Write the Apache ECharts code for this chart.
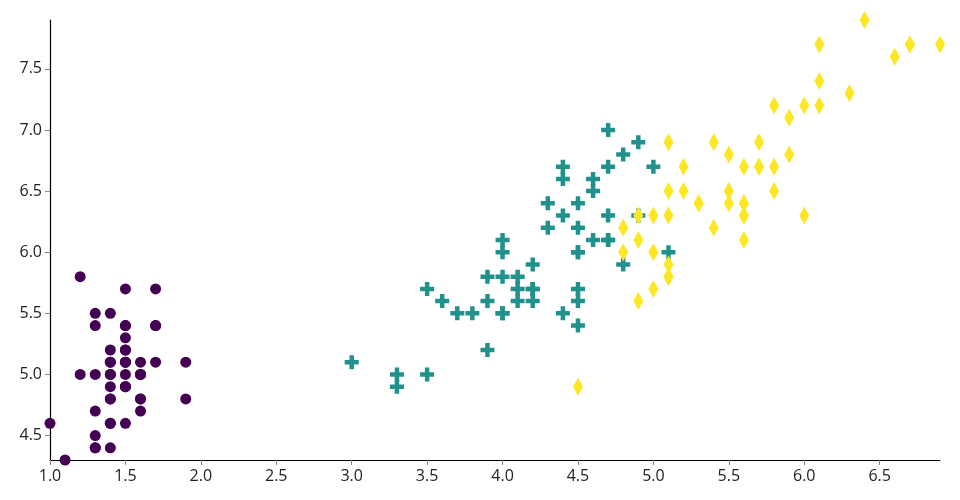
<!DOCTYPE html>
<html><head><meta charset="utf-8">
<script src="https://cdn.jsdelivr.net/npm/echarts@6/dist/echarts.min.js"></script>
<style>html,body{margin:0;padding:0;background:#fff}#c{width:960px;height:500px}</style>
</head><body><div id="c"></div>
<script>
// [petal length, sepal length]
const setosa = [[1.4,5.1],[1.4,4.9],[1.3,4.7],[1.5,4.6],[1.4,5.0],[1.7,5.4],[1.4,4.6],[1.5,5.0],[1.4,4.4],[1.5,4.9],[1.5,5.4],[1.6,4.8],[1.4,4.8],[1.1,4.3],[1.2,5.8],[1.5,5.7],[1.3,5.4],[1.4,5.1],[1.7,5.7],[1.5,5.1],[1.7,5.4],[1.5,5.1],[1.0,4.6],[1.7,5.1],[1.9,4.8],[1.6,5.0],[1.6,5.0],[1.5,5.2],[1.4,5.2],[1.6,4.7],[1.6,4.8],[1.5,5.4],[1.5,5.2],[1.4,5.5],[1.5,4.9],[1.2,5.0],[1.3,5.5],[1.5,4.9],[1.3,4.4],[1.5,5.1],[1.3,5.0],[1.3,4.5],[1.3,4.4],[1.6,5.0],[1.9,5.1],[1.4,4.8],[1.6,5.1],[1.4,4.6],[1.5,5.3],[1.4,5.0]];
const versicolor = [[4.7,7.0],[4.5,6.4],[4.9,6.9],[4.0,5.5],[4.6,6.5],[4.5,5.7],[4.7,6.3],[3.3,4.9],[4.6,6.6],[3.9,5.2],[3.5,5.0],[4.2,5.9],[4.0,6.0],[4.7,6.1],[3.6,5.6],[4.4,6.7],[4.5,5.6],[4.1,5.8],[4.5,6.2],[3.9,5.6],[4.8,5.9],[4.0,6.1],[4.9,6.3],[4.7,6.1],[4.3,6.4],[4.4,6.6],[4.8,6.8],[5.0,6.7],[4.5,6.0],[3.5,5.7],[3.8,5.5],[3.7,5.5],[3.9,5.8],[5.1,6.0],[4.5,5.4],[4.5,6.0],[4.7,6.7],[4.4,6.3],[4.1,5.6],[4.0,5.5],[4.4,5.5],[4.6,6.1],[4.0,5.8],[3.3,5.0],[4.2,5.6],[4.2,5.7],[4.2,5.7],[4.3,6.2],[3.0,5.1],[4.1,5.7]];
const virginica = [[6.0,6.3],[5.1,5.8],[5.9,7.1],[5.6,6.3],[5.8,6.5],[6.6,7.6],[4.5,4.9],[6.3,7.3],[5.8,6.7],[6.1,7.2],[5.1,6.5],[5.3,6.4],[5.5,6.8],[5.0,5.7],[5.1,5.8],[5.3,6.4],[5.5,6.5],[6.7,7.7],[6.9,7.7],[5.0,6.0],[5.7,6.9],[4.9,5.6],[6.7,7.7],[4.9,6.3],[5.7,6.7],[6.0,7.2],[4.8,6.2],[4.9,6.1],[5.6,6.4],[5.8,7.2],[6.1,7.4],[6.4,7.9],[5.6,6.4],[5.1,6.3],[5.6,6.1],[6.1,7.7],[5.6,6.3],[5.5,6.4],[4.8,6.0],[5.4,6.9],[5.6,6.7],[5.1,6.9],[5.1,5.8],[5.9,6.8],[5.7,6.7],[5.2,6.7],[5.0,6.3],[5.2,6.5],[5.4,6.2],[5.1,5.9]];
const colors = ['#440154','#21918c','#fde725'];

const crossPath = 'path://M3.4,0H6.6V3.4H10V6.6H6.6V10H3.4V6.6H0V3.4H3.4Z';
const chart = echarts.init(document.getElementById('c'));
const axisCommon = {
  type:'value', scale:true,
  axisLine:{show:true,lineStyle:{color:'#000',width:1.2}},
  axisTick:{show:true,length:5,lineStyle:{color:'#888'}},
  splitLine:{show:false},
  axisLabel:{showMinLabel:true,showMaxLabel:false,color:'#222',fontSize:16,fontFamily:'Open Sans',formatter:v=>v.toFixed(1)}
};
chart.setOption({
  animation:false,
  grid:{left:50,right:20,top:20,bottom:40,containLabel:false},
  xAxis:Object.assign({},axisCommon,{min:1.0,max:6.9,splitNumber:12,axisLabel:Object.assign({},axisCommon.axisLabel,{margin:8})}),
  yAxis:Object.assign({},axisCommon,{min:4.3,max:7.9,splitNumber:7,axisLabel:Object.assign({},axisCommon.axisLabel,{showMinLabel:false,margin:8})}),
  series:[
    {type:'scatter',data:setosa,symbol:'circle',symbolSize:11,itemStyle:{color:colors[0],opacity:1}},
    {type:'scatter',data:versicolor,symbol:crossPath,symbolSize:14,itemStyle:{color:colors[1],opacity:1}},
    {type:'scatter',data:virginica,symbol:'diamond',symbolSize:[10,18],itemStyle:{color:colors[2],opacity:1}}
  ]
});
</script></body></html>
